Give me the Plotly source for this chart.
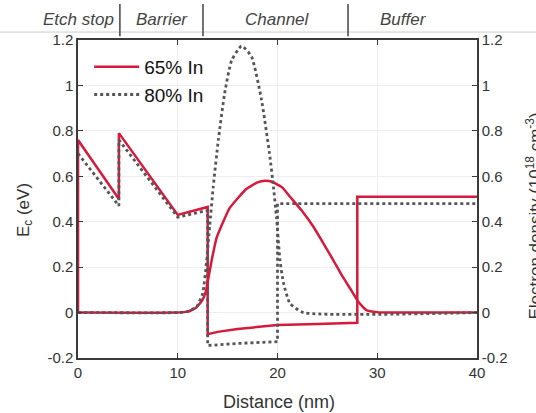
import plotly.graph_objects as go

# ---- Data ----
# Conduction band edge Ec (eV), left axis
ec65_x = [0, 0, 4.1, 4.1, 10, 13, 13, 14, 16, 18, 20, 24, 28, 28, 40]
ec65_y = [0, 0.76, 0.50, 0.79, 0.43, 0.465, -0.095, -0.085, -0.072, -0.062, -0.055, -0.05, -0.045, 0.51, 0.51]
ec80_x = [0, 4.1, 4.1, 10, 13, 13, 16, 20, 20, 40]
ec80_y = [0.70, 0.47, 0.76, 0.42, 0.45, -0.145, -0.136, -0.128, 0.48, 0.48]

# Electron density (1e18 cm^-3), right axis
n65_x = [0, 10, 11, 11.8, 12.4, 12.8, 13.0, 13.4, 13.9, 15.2, 16.9, 18.0, 18.75, 19.5, 20.5, 21.25,
         22.5, 23.6, 24.6, 25.6, 26.5, 27.3, 28.1, 28.9, 30, 31, 40]
n65_y = [0, 0, 0.004, 0.02, 0.05, 0.09, 0.135, 0.23, 0.33, 0.46, 0.545, 0.573, 0.58, 0.575, 0.55, 0.51,
         0.445, 0.378, 0.305, 0.23, 0.16, 0.105, 0.048, 0.011, 0.002, 0, 0]
n80_x = [0, 10, 11, 11.9, 12.5, 12.9, 13.2, 13.55, 14.07, 14.7, 15.4, 16.4, 17.4, 18.4, 19.2, 19.6,
         19.9, 20.25, 20.6, 21.25, 22.6, 40]
n80_y = [0, 0, 0.005, 0.026, 0.085, 0.23, 0.38, 0.55, 0.76, 0.965, 1.11, 1.174, 1.127, 0.936, 0.70, 0.55,
         0.42, 0.23, 0.13, 0.04, 0.0, 0]

series_names = ["65% In", "80% In"]
region_labels = ["Etch stop", "Barrier", "Channel", "Buffer"]
region_bounds = [4.2, 12.53, 27.07]

x_ticks = [0, 10, 20, 30, 40]
y_ticks = [-0.2, 0, 0.2, 0.4, 0.6, 0.8, 1.0, 1.2]
y_tick_text = ["-0.2", "0", "0.2", "0.4", "0.6", "0.8", "1", "1.2"]

RED = "#d7193c"
GRAY = "#555555"
AX = "#3a3a3a"
FONT = "Liberation Sans, Arial, sans-serif"

fig = go.Figure()
fig.add_trace(go.Scatter(x=ec65_x, y=ec65_y, mode="lines", name=series_names[0],
                         line=dict(color=RED, width=2.5)))
fig.add_trace(go.Scatter(x=ec80_x, y=ec80_y, mode="lines", name=series_names[1],
                         line=dict(color=GRAY, width=2.8, dash="3px,3px")))
fig.add_trace(go.Scatter(x=n65_x, y=n65_y, mode="lines", yaxis="y2", showlegend=False,
                         line=dict(color=RED, width=2.5, shape="spline", smoothing=0.4)))
fig.add_trace(go.Scatter(x=n80_x, y=n80_y, mode="lines", yaxis="y2", showlegend=False,
                         line=dict(color=GRAY, width=2.8, dash="3px,3px", shape="spline", smoothing=0.5)))

fig.update_layout(
    width=536, height=413,
    margin=dict(l=78, r=59, t=40, b=55),
    paper_bgcolor="white", plot_bgcolor="white",
    font=dict(family=FONT, size=15, color="#333"),
    xaxis=dict(range=[0, 40], tickvals=x_ticks, ticks="inside", ticklen=5, tickcolor=AX,
               showline=True, linecolor=AX, linewidth=1.5, mirror="ticks",
               showgrid=True, gridcolor="#eeeeee", zeroline=False,
               tickfont=dict(size=15, color="#333")),
    yaxis=dict(range=[-0.2, 1.2], tickvals=y_ticks, ticktext=y_tick_text, ticks="inside",
               ticklen=5, tickcolor=AX, showline=True, linecolor=AX, linewidth=1.5,
               showgrid=True, gridcolor="#eeeeee", zeroline=False,
               tickfont=dict(size=15, color="#333")),
    yaxis2=dict(range=[-0.2, 1.2], tickvals=y_ticks, ticktext=y_tick_text, ticks="inside",
                ticklen=5, tickcolor=AX, overlaying="y", side="right", showline=True,
                linecolor=AX, linewidth=1.5, showgrid=False, zeroline=False,
                tickfont=dict(size=15, color="#333")),
    legend=dict(x=0.028, y=0.975, xanchor="left", yanchor="top", bgcolor="rgba(0,0,0,0)",
                font=dict(size=19, color="#111"), tracegroupgap=0, itemwidth=45),
    showlegend=True,
)

# axis titles as annotations
fig.add_annotation(text="Distance (nm)", xref="paper", yref="paper", x=0.503, y=-0.138,
                   showarrow=False, font=dict(size=18, color="#333"), xanchor="center", yanchor="middle")
fig.add_annotation(text="E<sub>c</sub> (eV)", xref="paper", yref="paper", x=-0.133, y=0.465,
                   showarrow=False, textangle=-90, font=dict(size=17, color="#333"),
                   xanchor="center", yanchor="middle")
fig.add_annotation(text="Electron density (10<sup>18</sup> cm<sup>-3</sup>)", xref="paper", yref="paper",
                   x=1.142, y=0.447, showarrow=False, textangle=-90,
                   font=dict(size=17, color="#333"), xanchor="center", yanchor="middle")

# region labels above the plot
region_label_px = [0.0025, 0.21, 0.501, 0.815]
for lab, lx in zip(region_labels, region_label_px):
    fig.add_annotation(text="<i>" + lab + "</i>", xref="paper", yref="paper", x=lx, y=1.066,
                       showarrow=False, font=dict(size=17, color="#444"),
                       xanchor="center", yanchor="middle")
for bx in region_bounds:
    fig.add_shape(type="line", xref="x", yref="paper", x0=bx, x1=bx, y0=1.012, y1=1.113,
                  line=dict(color="#444", width=1.5))
fig.add_shape(type="line", xref="paper", yref="paper", x0=-0.2, x1=1.2, y0=1.025, y1=1.025,
              line=dict(color="#cccccc", width=1), layer="below")

fig.write_html("out.html", config={"displayModeBar": False},
               post_script="document.body.style.margin='0';")
